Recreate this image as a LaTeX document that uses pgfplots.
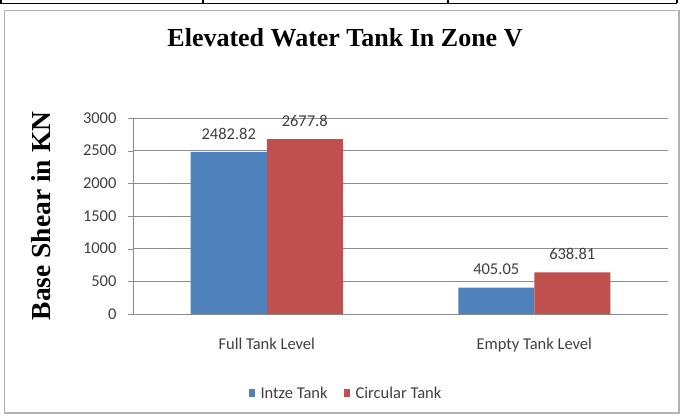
\documentclass[border=0pt]{standalone}
\usepackage{fontspec}
\setmainfont{Liberation Serif}
\newfontfamily\calib{Carlito}
\usepackage{pgfplots}
\pgfplotsset{compat=1.18}
\definecolor{intze}{HTML}{4F81BD}
\definecolor{circ}{HTML}{C0504D}
\definecolor{txt}{HTML}{404040}
\definecolor{gridc}{HTML}{8C8C8C}
\begin{document}
\begin{tikzpicture}[x=1pt,y=1pt]
\useasboundingbox (0,0) rectangle (681,416);
\fill[white] (0,0) rectangle (681,416);
% table lines at top
\draw[black, line width=1.6pt] (0,412.5) -- (677,412.5);
\foreach \xx in {1,203,448,677} \draw[black, line width=1.4pt] (\xx,412.5) -- (\xx,416);
% chart frame
\draw[gray!60, line width=1.5pt] (4.5,3) rectangle (679,405.5);
\node[font=\bfseries\fontsize{26}{30}\selectfont, anchor=base] at (345,369) {Elevated Water Tank In Zone V};
\node[font=\bfseries\fontsize{27.5}{30}\selectfont, rotate=90, anchor=center] at (41,200) {Base Shear in KN};
\begin{axis}[
  at={(133pt,102pt)}, anchor=south west,
  scale only axis, width=535pt, height=196pt,
  xmin=-0.5, xmax=1.5, ymin=0, ymax=3000,
  ybar=0pt, bar width=76pt,
  axis x line*=bottom, axis y line*=left,
  axis line style={draw=gridc, -},
  ytick={0,500,...,3000},
  ymajorgrids, grid style={draw=gridc, line width=0.8pt},
  xtick={0,1}, xticklabels={Full Tank Level, Empty Tank Level},
  major x tick style={draw=none},
  extra x ticks={-0.5,0.5,1.5}, extra x tick labels={},
  extra x tick style={major tick length=5pt, tick style={draw=gridc}},
  tick align=outside, major tick length=5pt,
  tick style={draw=gridc},
  ticklabel style={font=\calib\fontsize{16.5}{18}\selectfont, text=txt},
  /pgf/number format/assume math mode=true,
  /pgf/number format/1000 sep={},
  yticklabel style={xshift=-8pt},
  xticklabel style={yshift=-16pt},
  point meta=explicit symbolic,
  nodes near coords,
  every node near coord/.append style={font=\calib\fontsize{16.5}{18}\selectfont, text=txt, anchor=south, yshift=9pt},
  legend style={at={(rel axis cs:0.398,-0.405)}, anchor=center, draw=none, fill=none,
    legend columns=2, font=\calib\fontsize{16.5}{18}\selectfont, text=txt,
    /tikz/every even column/.append style={column sep=14pt}},
  legend image code/.code={\fill[#1] (0pt,-3.5pt) rectangle (6pt,4pt);},
  legend cell align=left,
  clip=false,
]
\addplot[fill=intze, draw=none] coordinates {(0,2482.82)[2482.82] (1,405.05)[405.05]};
\addplot[fill=circ, draw=none] coordinates {(0,2677.8)[2677.8] (1,638.81)[638.81]};
\legend{\hspace{4pt}Intze Tank, \hspace{4pt}Circular Tank}
\end{axis}
\end{tikzpicture}
\end{document}
